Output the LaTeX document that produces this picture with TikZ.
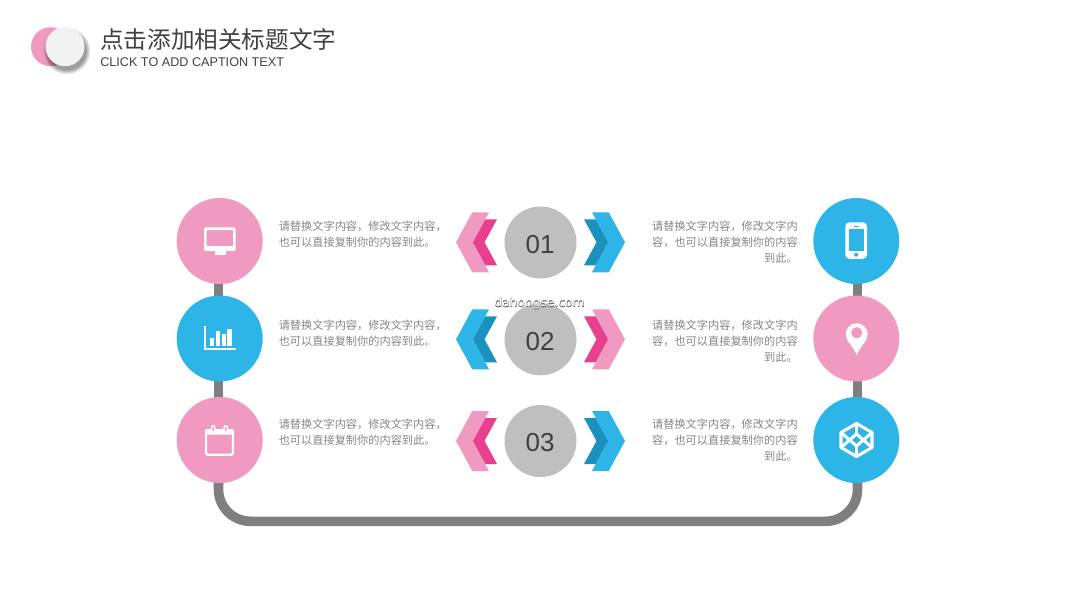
\documentclass[tikz,border=0pt]{standalone}
\usepackage{fontspec}
\usetikzlibrary{backgrounds}
\setmainfont{Liberation Sans}
\newfontfamily\cjk{Noto Sans CJK SC}
\newfontfamily\wmfill{DejaVu Sans}
\newfontfamily\wmedge[FakeBold=4]{DejaVu Sans}
\definecolor{pinkl}{HTML}{F09AC1}
\definecolor{pinkd}{HTML}{E8408F}
\definecolor{bluel}{HTML}{2CB5E6}
\definecolor{blued}{HTML}{1A91BE}
\definecolor{disc}{HTML}{BFBFBF}
\definecolor{rail}{HTML}{7F7F7F}
\definecolor{bodytxt}{HTML}{858585}
\definecolor{ink}{HTML}{404040}
\tikzset{
  bigdisc/.style={circle,minimum size=64.5pt,inner sep=0pt,fill=#1},
  numdisc/.style={circle,minimum size=54pt,inner sep=0pt,fill=disc},
  numtxt/.style={inner sep=0pt,text=ink,font=\fontsize{19.5pt}{20pt}\selectfont},
  raill/.style={draw=rail,line width=7.2pt},
  bodyl/.style={anchor=north west,inner sep=0pt,align=left,text=bodytxt,font=\cjk\fontsize{8.4pt}{12pt}\selectfont},
  bodyr/.style={anchor=north east,inner sep=0pt,align=right,text=bodytxt,font=\cjk\fontsize{8.4pt}{12pt}\selectfont},
  icon/.style={fill=white,draw=none},
  iconline/.style={draw=white,line width=1.8pt,line join=round},
}
\newcommand{\chevpair}[4]{%
  \begin{scope}[shift={(540.5,#1)},xscale=#2]
    \fill[#4] (-67.8,0)--(-55.3,-23)--(-43.5,-23)--(-56,0)--(-43.5,23)--(-55.3,23)--cycle;
    \fill[#3] (-84.5,0)--(-68.2,-30)--(-51.5,-30)--(-67.8,0)--(-51.5,30)--(-68.2,30)--cycle;
  \end{scope}}
\begin{document}
\begin{tikzpicture}[x=0.75pt,y=-0.75pt]
\useasboundingbox (0,0) rectangle (1080,607);
% header
\fill[pinkl] (50.5,46.7) circle[radius=19.5];
\foreach \r in {23.4,23,...,19}{\fill[black,opacity=.04] (67,51) circle[radius=\r];}
\fill[white!95!black] (65,46.7) circle[radius=19.5];
\node[anchor=west,inner sep=0pt,text=ink,font=\cjk\fontsize{17.7pt}{20pt}\selectfont] (title) at (100,39.5) {点击添加相关标题文字};
\node[anchor=west,inner sep=0pt,text=ink,font=\fontsize{9.48pt}{12pt}\selectfont] (caption) at (100,62.5) {CLICK TO ADD CAPTION TEXT};
% big discs
\node[bigdisc=pinkl] (c1l) at (219.7,241) {};
\node[bigdisc=bluel] (c2l) at (219.7,338.5) {};
\node[bigdisc=pinkl] (c3l) at (219.7,440) {};
\node[bigdisc=bluel] (c1r) at (856.3,241) {};
\node[bigdisc=pinkl] (c2r) at (856.3,338.5) {};
\node[bigdisc=bluel] (c3r) at (856.3,440) {};
% rails
\begin{scope}[on background layer]
  \draw[raill] ([xshift=-0.9pt]c1l.center) -- ([xshift=-0.9pt]c2l.center);
  \draw[raill] ([xshift=-0.9pt]c2l.center) -- ([xshift=-0.9pt]c3l.center);
  \draw[raill] ([xshift=0.9pt]c1r.center) -- ([xshift=0.9pt]c2r.center);
  \draw[raill] ([xshift=0.9pt]c2r.center) -- ([xshift=0.9pt]c3r.center);
  \coordinate (bl) at (218.5,521.3);
  \coordinate (br) at (857.5,521.3);
  \draw[raill,rounded corners=24pt] ([xshift=-0.9pt]c3l.center) -- (bl) -- (br) -- ([xshift=0.9pt]c3r.center);
\end{scope}
% number discs
\node[numdisc] (n1) at (540.5,242.5) {};
\node[numdisc] (n2) at (540.5,339.3) {};
\node[numdisc] (n3) at (540.5,441) {};
\node[numtxt] (l1) at (540,244.5) {01};
\node[numtxt] (l2) at (540,342) {02};
\node[numtxt] (l3) at (540,443) {03};
% chevrons
\chevpair{242.3}{1}{pinkl}{pinkd}
\chevpair{242.3}{-1}{bluel}{blued}
\chevpair{339.3}{1}{bluel}{blued}
\chevpair{339.3}{-1}{pinkl}{pinkd}
\chevpair{441}{1}{pinkl}{pinkd}
\chevpair{441}{-1}{bluel}{blued}
% body text
\node[bodyl] (tl1) at (278.5,220.5) {请替换文字内容，修改文字内容，\\也可以直接复制你的内容到此。};
\node[bodyl] (tl2) at (278.5,320) {请替换文字内容，修改文字内容，\\也可以直接复制你的内容到此。};
\node[bodyl] (tl3) at (278.5,419) {请替换文字内容，修改文字内容，\\也可以直接复制你的内容到此。};
\node[bodyr] (tr1) at (798,220.5) {请替换文字内容，修改文字内\\容，也可以直接复制你的内容\\到此。};
\node[bodyr] (tr2) at (798,320) {请替换文字内容，修改文字内\\容，也可以直接复制你的内容\\到此。};
\node[bodyr] (tr3) at (798,419) {请替换文字内容，修改文字内\\容，也可以直接复制你的内容\\到此。};
% watermark
\node[inner sep=0pt,text=rail!85!black,font=\wmedge\fontsize{9.2pt}{11pt}\selectfont] (wm1) at (539.5,303.5) {dahongse.com};
\node[inner sep=0pt,text=white,font=\wmfill\fontsize{9.2pt}{11pt}\selectfont] (wm2) at (539.5,303.5) {dahongse.com};
% monitor icon
\fill[icon,even odd rule] [rounded corners=1.2pt] (204,227.3) rectangle (235.7,251) [sharp corners] (206.7,230) rectangle (233,246);
\fill[icon] (214.5,251) rectangle (225.5,255);
% chart icon
\fill[icon] (204,326) rectangle (206,350);
\fill[icon] (204,347.8) rectangle (235.5,350);
\fill[icon] (209.7,338.3) rectangle (214,346);
\fill[icon] (215.7,330.7) rectangle (220,346);
\fill[icon] (221.7,334.3) rectangle (226,346);
\fill[icon] (227.3,328.7) rectangle (231.7,346);
% calendar icon
\draw[iconline,rounded corners=1.2pt] (206,432) rectangle (233,454.7);
\fill[icon,rounded corners=1pt] (205,429) rectangle (234,434.5);
\foreach \rx in {213.3,225.7}{
  \fill[white,rounded corners=1.5pt] (\rx-2.3,425) rectangle (\rx+2.3,433);
  \fill[pinkl,rounded corners=0.6pt] (\rx-0.9,427) rectangle (\rx+0.9,431);
}
% phone icon
\fill[icon,rounded corners=3.2pt] (845.3,222.3) rectangle (867,258.8);
\fill[bluel] (848.7,229.3) rectangle (864,250.7);
\fill[bluel] (853.7,225.5) rectangle (858.7,226.5);
\fill[bluel] (856.1,254.8) circle[radius=2];
% pin icon
\fill[icon] (856.7,355) .. controls (853,346) and (845.7,341) .. (845.7,334.3)
  arc[start angle=180,end angle=360,radius=11]
  .. controls (867.7,341) and (860.4,346) .. cycle;
\fill[pinkl] (856.7,332.7) circle[radius=5.6];
% cube icon
\begin{scope}[shift={(856.5,440)},iconline/.append style={line width=2.3pt}]
  \draw[iconline] (0,-16.5)--(15.5,-7.5)--(15.5,7.5)--(0,16.5)--(-15.5,7.5)--(-15.5,-7.5)--cycle;
  \draw[iconline] (-15.5,-7.5)--(0,6)--(15.5,-7.5);
  \draw[iconline] (-15.5,7.5)--(0,-6)--(15.5,7.5);
  \draw[iconline] (0,-16.5)--(0,-6);
  \draw[iconline] (0,16.5)--(0,6);
\end{scope}
\end{tikzpicture}
\end{document}
